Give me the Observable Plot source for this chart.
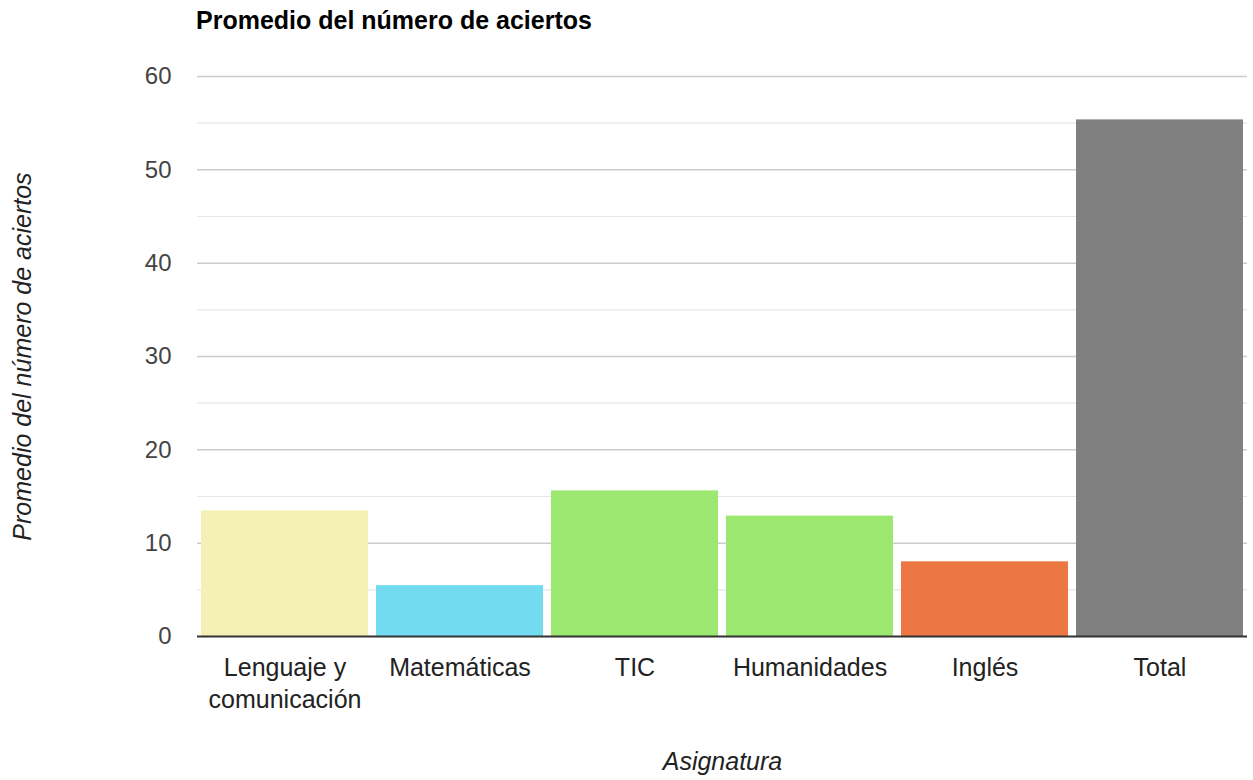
<!DOCTYPE html>
<html>
<head>
<meta charset="utf-8">
<script src="https://cdn.jsdelivr.net/npm/d3@7"></script>
<script src="https://cdn.jsdelivr.net/npm/@observablehq/plot@0.6"></script>
<style>
  html, body { margin: 0; padding: 0; background: #fff; }
  #title { font-family: "Liberation Sans", Arial, sans-serif; font-weight: bold; font-size: 25px; color: #000;
           height: 50px; box-sizing: border-box; padding-left: 196px; padding-top: 6px; }
  #chart svg { display: block; }
</style>
</head>
<body>
<div id="title">Promedio del número de aciertos</div>
<div id="chart"></div>
<script>
const categories = ["Lenguaje y comunicación", "Matemáticas", "TIC", "Humanidades", "Inglés", "Total"];
const values = [13.45, 5.45, 15.6, 12.9, 8.0, 55.35];
const colors = ["#f5f1b4", "#72dbf0", "#9be76f", "#9be76f", "#ec7742", "#808080"];
const yTicks = [0, 10, 20, 30, 40, 50, 60];
const minorTicks = [5, 15, 25, 35, 45, 55];
const yLabel = "Promedio del número de aciertos";
const xLabel = "Asignatura";

const data = categories.map((c, i) => ({cat: c, value: values[i], color: colors[i]}));

const chart = Plot.plot({
  width: 1253,
  height: 730,
  marginTop: 26,
  marginBottom: 144,
  marginLeft: 197,
  marginRight: 6,
  style: {fontFamily: "'Liberation Sans', Arial, sans-serif", background: "#fff"},
  x: {domain: categories, paddingInner: 0.045, paddingOuter: 0.02, label: null},
  y: {domain: [0, 60], label: null},
  marks: [
    Plot.ruleY(minorTicks, {stroke: "#e6e6e6", strokeWidth: 1.2}),
    Plot.ruleY(yTicks.filter(d => d > 0), {stroke: "#cccccc", strokeWidth: 1.5}),
    Plot.barY(data, {x: "cat", y: "value", fill: "color"}),
    Plot.ruleY([0], {stroke: "#333", strokeWidth: 2}),
    Plot.axisY({ticks: yTicks, tickSize: 0, tickPadding: 26, fontSize: 24, color: "#444", label: null}),
    Plot.axisX({tickSize: 0, tickPadding: 16, fontSize: 25, color: "#222", label: null, lineHeight: 1.3,
      tickFormat: d => d.replace("Lenguaje y ", "Lenguaje y\n")}),
    Plot.text([yLabel], {frameAnchor: "left", dx: -175, rotate: -90, textAnchor: "middle", lineAnchor: "middle", fontStyle: "italic", fontSize: 25, fill: "#222"}),
    Plot.text([xLabel], {frameAnchor: "bottom", dy: 133, textAnchor: "middle", fontStyle: "italic", fontSize: 25, fill: "#222"})
  ]
});
document.getElementById("chart").appendChild(chart);
</script>
</body>
</html>
